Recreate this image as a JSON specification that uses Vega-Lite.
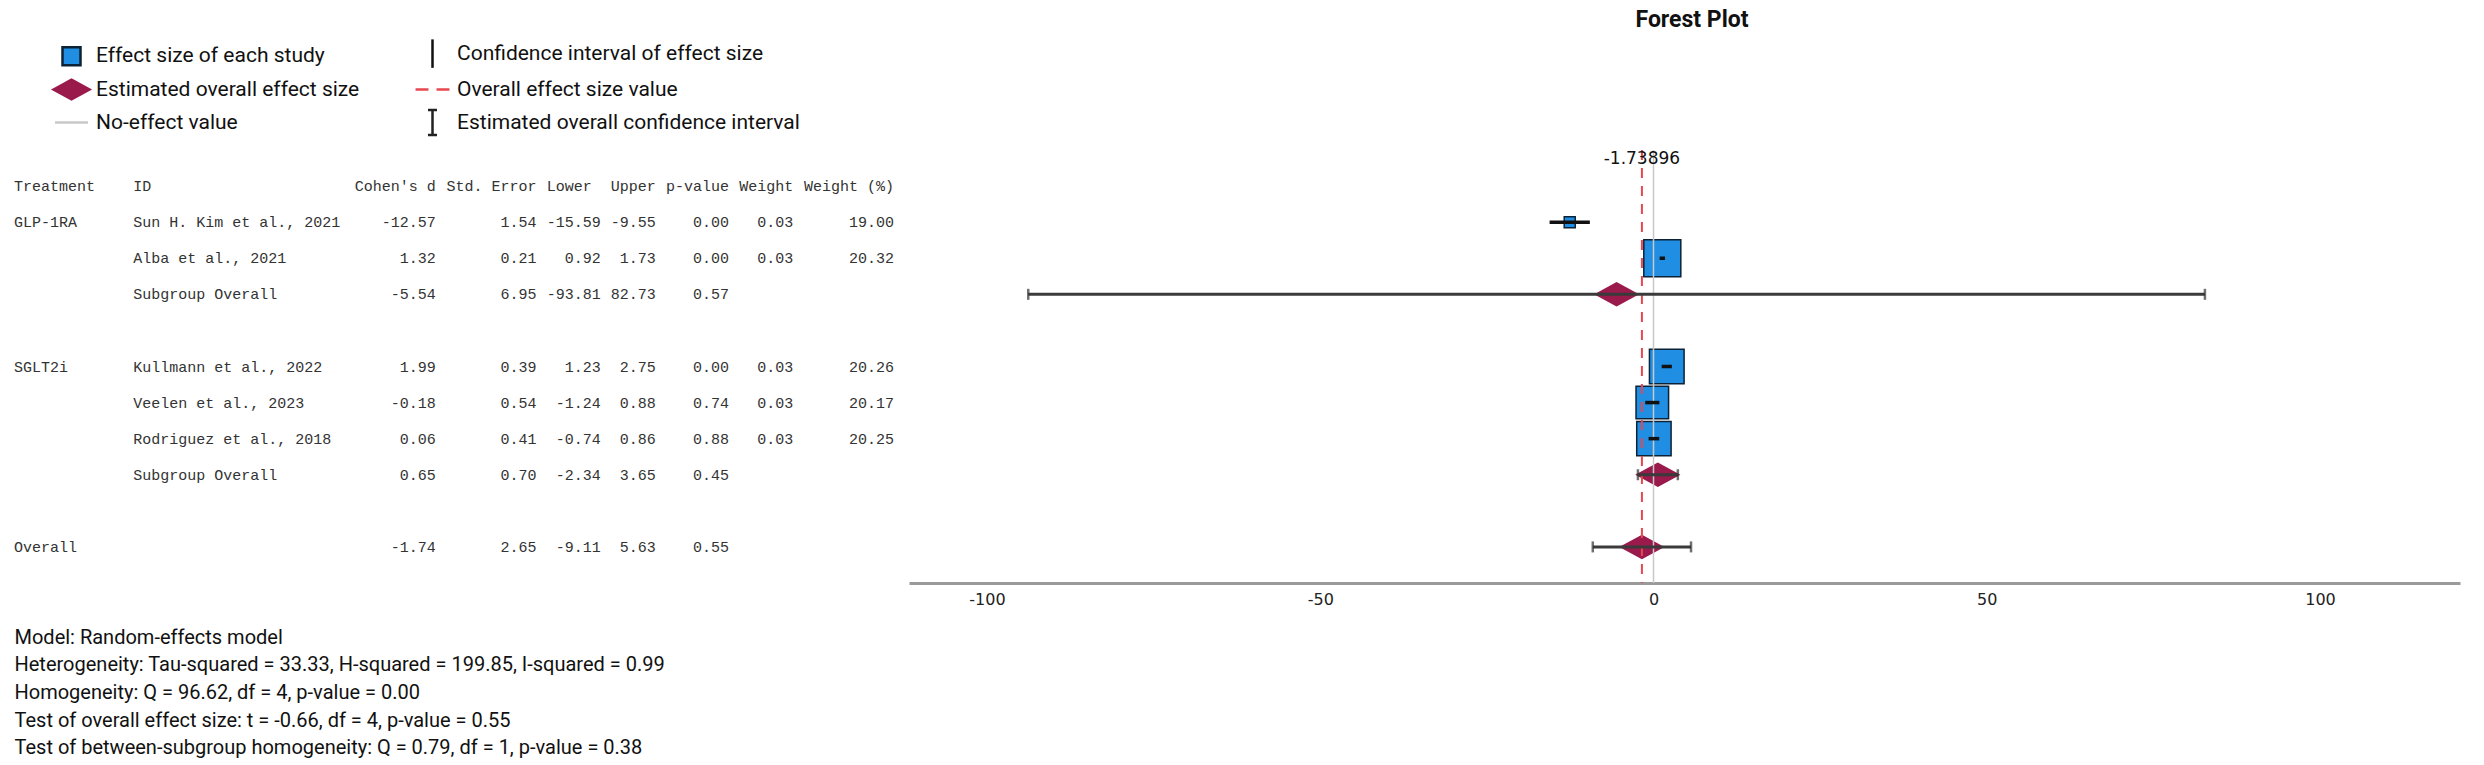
{
  "$schema": "https://vega.github.io/schema/vega-lite/v6.json",
  "width": 2484,
  "height": 433,
  "autosize": {"type": "none"},
  "padding": {"left": 0, "top": 150, "right": 0, "bottom": 182},
  "background": "white",
  "title": {"text": "Forest Plot", "font": "Roboto", "fontSize": 23, "fontWeight": "bold", "color": "#111111", "anchor": "middle", "frame": "group", "dx": 450, "offset": 5},
  "config": {
    "view": {"stroke": null},
    "locale": {"number": {"decimal": ".", "thousands": ",", "grouping": [3], "currency": ["$", ""], "minus": "-"}}
  },
  "datasets": {
    "studies": [
      {"row": "GLP-1RA | Sun H. Kim et al., 2021", "treatment": "GLP-1RA", "id": "Sun H. Kim et al., 2021", "type": "study", "element": "Effect size of each study", "cohens_d": -12.57, "std_error": 1.54, "lower": -15.59, "upper": -9.55, "p_value": 0.00, "weight": 0.03, "weight_pct": 19.00},
      {"row": "GLP-1RA | Alba et al., 2021", "treatment": "GLP-1RA", "id": "Alba et al., 2021", "type": "study", "element": "Effect size of each study", "cohens_d": 1.32, "std_error": 0.21, "lower": 0.92, "upper": 1.73, "p_value": 0.00, "weight": 0.03, "weight_pct": 20.32},
      {"row": "GLP-1RA | Subgroup Overall", "treatment": "GLP-1RA", "id": "Subgroup Overall", "type": "subgroup", "element": "Estimated overall effect size", "cohens_d": -5.54, "std_error": 6.95, "lower": -93.81, "upper": 82.73, "p_value": 0.57, "weight": null, "weight_pct": null},
      {"row": "SGLT2i | Kullmann et al., 2022", "treatment": "SGLT2i", "id": "Kullmann et al., 2022", "type": "study", "element": "Effect size of each study", "cohens_d": 1.99, "std_error": 0.39, "lower": 1.23, "upper": 2.75, "p_value": 0.00, "weight": 0.03, "weight_pct": 20.26},
      {"row": "SGLT2i | Veelen et al., 2023", "treatment": "SGLT2i", "id": "Veelen et al., 2023", "type": "study", "element": "Effect size of each study", "cohens_d": -0.18, "std_error": 0.54, "lower": -1.24, "upper": 0.88, "p_value": 0.74, "weight": 0.03, "weight_pct": 20.17},
      {"row": "SGLT2i | Rodriguez et al., 2018", "treatment": "SGLT2i", "id": "Rodriguez et al., 2018", "type": "study", "element": "Effect size of each study", "cohens_d": 0.06, "std_error": 0.41, "lower": -0.74, "upper": 0.86, "p_value": 0.88, "weight": 0.03, "weight_pct": 20.25},
      {"row": "SGLT2i | Subgroup Overall", "treatment": "SGLT2i", "id": "Subgroup Overall", "type": "subgroup", "element": "Estimated overall effect size", "cohens_d": 0.65, "std_error": 0.70, "lower": -2.34, "upper": 3.65, "p_value": 0.45, "weight": null, "weight_pct": null},
      {"row": "Overall", "treatment": "Overall", "id": null, "type": "overall", "element": "Estimated overall effect size", "cohens_d": -1.74, "estimate": -1.73896, "std_error": 2.65, "lower": -9.11, "upper": 5.63, "p_value": 0.55, "weight": null, "weight_pct": null}
    ],
    "header": [
      {"row": "header", "treatment": "Treatment", "id": "ID", "cohens_d": "Cohen's d", "std_error": "Std. Error", "lower": "Lower", "upper": "Upper", "p_value": "p-value", "weight": "Weight", "weight_pct": "Weight (%)"}
    ]
  },
  "data": {"name": "studies"},
  "resolve": {"scale": {"x": "independent"}, "axis": {"x": "independent"}},
  "layer": [
    {
      "encoding": {
        "y": {"field": "row", "type": "nominal", "axis": null, "scale": {"type": "point", "padding": 1.064, "domain": ["header", "GLP-1RA | Sun H. Kim et al., 2021", "GLP-1RA | Alba et al., 2021", "GLP-1RA | Subgroup Overall", "gap 1", "SGLT2i | Kullmann et al., 2022", "SGLT2i | Veelen et al., 2023", "SGLT2i | Rodriguez et al., 2018", "SGLT2i | Subgroup Overall", "gap 2", "Overall"]}}
      },
      "layer": [
        {
          "encoding": {"x": {"datum": 0, "type": "quantitative", "scale": {"domain": [0, 96], "range": [14, 894], "nice": false, "zero": false},
            "axis": {"orient": "bottom", "domain": false, "ticks": false, "labels": false, "grid": false,
              "title": ["Model: Random-effects model", "Heterogeneity: Tau-squared = 33.33, H-squared = 199.85, I-squared = 0.99", "Homogeneity: Q = 96.62, df = 4, p-value = 0.00", "Test of overall effect size: t = -0.66, df = 4, p-value = 0.55", "Test of between-subgroup homogeneity: Q = 0.79, df = 1, p-value = 0.38"],
              "titleAnchor": "start", "titleAlign": "left", "titleBaseline": "top", "titleFont": "Roboto", "titleFontSize": 20, "titleFontWeight": "normal", "titleColor": "#111111", "titlePadding": 44, "titleLineHeight": 27.7}}},
          "layer": [
            {"transform": [{"window": [{"op": "row_number", "as": "rn"}], "groupby": ["treatment"]}, {"filter": "datum.rn == 1"}],
             "mark": {"type": "text", "font": "Liberation Mono", "fontSize": 15, "color": "#333333", "align": "left", "baseline": "middle"},
             "encoding": {"text": {"field": "treatment"}}},
            {"data": {"name": "header"},
             "mark": {"type": "text", "font": "Liberation Mono", "fontSize": 15, "color": "#333333", "align": "left", "baseline": "middle"},
             "encoding": {"text": {"field": "treatment"}}}
          ]
        },
        {
          "encoding": {"x": {"datum": 13, "type": "quantitative"}},
          "layer": [
            {"transform": [{"filter": "isValid(datum.id)"}],
             "mark": {"type": "text", "font": "Liberation Mono", "fontSize": 15, "color": "#333333", "align": "left", "baseline": "middle"},
             "encoding": {"text": {"field": "id"}}},
            {"data": {"name": "header"},
             "mark": {"type": "text", "font": "Liberation Mono", "fontSize": 15, "color": "#333333", "align": "left", "baseline": "middle"},
             "encoding": {"text": {"field": "id"}}}
          ]
        },
        {
          "encoding": {"x": {"datum": 46, "type": "quantitative"}},
          "layer": [
            {"mark": {"type": "text", "font": "Liberation Mono", "fontSize": 15, "color": "#333333", "align": "right", "baseline": "middle"},
             "encoding": {"text": {"field": "cohens_d", "type": "quantitative", "format": ".2f"}}},
            {"data": {"name": "header"},
             "mark": {"type": "text", "font": "Liberation Mono", "fontSize": 15, "color": "#333333", "align": "right", "baseline": "middle"},
             "encoding": {"text": {"field": "cohens_d"}}}
          ]
        },
        {
          "encoding": {"x": {"datum": 57, "type": "quantitative"}},
          "layer": [
            {"mark": {"type": "text", "font": "Liberation Mono", "fontSize": 15, "color": "#333333", "align": "right", "baseline": "middle"},
             "encoding": {"text": {"field": "std_error", "type": "quantitative", "format": ".2f"}}},
            {"data": {"name": "header"},
             "mark": {"type": "text", "font": "Liberation Mono", "fontSize": 15, "color": "#333333", "align": "right", "baseline": "middle"},
             "encoding": {"text": {"field": "std_error"}}}
          ]
        },
        {
          "encoding": {"x": {"datum": 64, "type": "quantitative"}},
          "layer": [
            {"mark": {"type": "text", "font": "Liberation Mono", "fontSize": 15, "color": "#333333", "align": "right", "baseline": "middle"},
             "encoding": {"text": {"field": "lower", "type": "quantitative", "format": ".2f"}}},
            {"data": {"name": "header"},
             "mark": {"type": "text", "font": "Liberation Mono", "fontSize": 15, "color": "#333333", "align": "right", "baseline": "middle", "dx": -9},
             "encoding": {"text": {"field": "lower"}}}
          ]
        },
        {
          "encoding": {"x": {"datum": 70, "type": "quantitative"}},
          "layer": [
            {"mark": {"type": "text", "font": "Liberation Mono", "fontSize": 15, "color": "#333333", "align": "right", "baseline": "middle"},
             "encoding": {"text": {"field": "upper", "type": "quantitative", "format": ".2f"}}},
            {"data": {"name": "header"},
             "mark": {"type": "text", "font": "Liberation Mono", "fontSize": 15, "color": "#333333", "align": "right", "baseline": "middle"},
             "encoding": {"text": {"field": "upper"}}}
          ]
        },
        {
          "encoding": {"x": {"datum": 78, "type": "quantitative"}},
          "layer": [
            {"mark": {"type": "text", "font": "Liberation Mono", "fontSize": 15, "color": "#333333", "align": "right", "baseline": "middle"},
             "encoding": {"text": {"field": "p_value", "type": "quantitative", "format": ".2f"}}},
            {"data": {"name": "header"},
             "mark": {"type": "text", "font": "Liberation Mono", "fontSize": 15, "color": "#333333", "align": "right", "baseline": "middle"},
             "encoding": {"text": {"field": "p_value"}}}
          ]
        },
        {
          "encoding": {"x": {"datum": 85, "type": "quantitative"}},
          "layer": [
            {"transform": [{"filter": "isValid(datum.weight)"}],
             "mark": {"type": "text", "font": "Liberation Mono", "fontSize": 15, "color": "#333333", "align": "right", "baseline": "middle"},
             "encoding": {"text": {"field": "weight", "type": "quantitative", "format": ".2f"}}},
            {"data": {"name": "header"},
             "mark": {"type": "text", "font": "Liberation Mono", "fontSize": 15, "color": "#333333", "align": "right", "baseline": "middle"},
             "encoding": {"text": {"field": "weight"}}}
          ]
        },
        {
          "encoding": {"x": {"datum": 96, "type": "quantitative"}},
          "layer": [
            {"transform": [{"filter": "isValid(datum.weight_pct)"}],
             "mark": {"type": "text", "font": "Liberation Mono", "fontSize": 15, "color": "#333333", "align": "right", "baseline": "middle"},
             "encoding": {"text": {"field": "weight_pct", "type": "quantitative", "format": ".2f"}}},
            {"data": {"name": "header"},
             "mark": {"type": "text", "font": "Liberation Mono", "fontSize": 15, "color": "#333333", "align": "right", "baseline": "middle"},
             "encoding": {"text": {"field": "weight_pct"}}}
          ]
        }
      ]
    },
    {
      "layer": [
        {
          "mark": {"type": "point", "filled": true, "opacity": 1, "strokeWidth": 1.5},
          "encoding": {
            "x": {"field": "cohens_d", "type": "quantitative",
              "scale": {"domain": [-111.7, 121], "range": [909, 2460], "nice": false, "zero": false},
              "axis": {"orient": "bottom", "values": [-100, -50, 0, 50, 100], "labelExpr": "datum.value + ''", "domainColor": "#9a9a9a", "domainWidth": 3, "ticks": false, "grid": false, "labelFont": "DejaVu Sans", "labelFontSize": 16, "labelColor": "#222222", "labelPadding": 8, "title": null}},
            "y": {"field": "row", "type": "nominal", "axis": null, "scale": {"type": "point", "padding": 1.064, "domain": ["header", "GLP-1RA | Sun H. Kim et al., 2021", "GLP-1RA | Alba et al., 2021", "GLP-1RA | Subgroup Overall", "gap 1", "SGLT2i | Kullmann et al., 2022", "SGLT2i | Veelen et al., 2023", "SGLT2i | Rodriguez et al., 2018", "SGLT2i | Subgroup Overall", "gap 2", "Overall"]}},
            "shape": {"field": "element", "type": "nominal",
              "scale": {"domain": ["Effect size of each study", "Estimated overall effect size", "No-effect value", "Confidence interval of effect size", "Overall effect size value", "Estimated overall confidence interval"],
                "range": ["M-0.6,-0.6L0.6,-0.6L0.6,0.6L-0.6,0.6Z", "M-1.2,0L0,-0.65L1.2,0L0,0.65Z", "M-1.1,0L1.1,0", "M0,-0.95L0,0.95", "M-1.13,0L-0.27,0M0.27,0L1.13,0", "M-0.3,-0.83L0.3,-0.83M0,-0.83L0,0.83M-0.3,0.83L0.3,0.83"]},
              "legend": {"orient": "none", "legendX": 55, "legendY": -113, "columns": 2, "columnPadding": 50, "rowPadding": 0, "symbolSize": 900, "symbolStrokeWidth": 2.5, "labelFont": "Roboto", "labelFontSize": 21, "labelColor": "#111111", "labelLimit": 600, "labelOffset": 8, "title": null, "padding": 0}},
            "fill": {"field": "element", "type": "nominal",
              "scale": {"domain": ["Effect size of each study", "Estimated overall effect size", "No-effect value", "Confidence interval of effect size", "Overall effect size value", "Estimated overall confidence interval"],
                "range": ["#1f8ee3", "#9a1a4c", "transparent", "transparent", "transparent", "transparent"]},
              "legend": {"orient": "none", "legendX": 55, "legendY": -113, "columns": 2, "columnPadding": 50, "rowPadding": 0, "symbolSize": 900, "symbolStrokeWidth": 2.5, "labelFont": "Roboto", "labelFontSize": 21, "labelColor": "#111111", "labelLimit": 600, "labelOffset": 8, "title": null, "padding": 0}},
            "stroke": {"field": "element", "type": "nominal",
              "scale": {"domain": ["Effect size of each study", "Estimated overall effect size", "No-effect value", "Confidence interval of effect size", "Overall effect size value", "Estimated overall confidence interval"],
                "range": ["#0c2236", "#9a1a4c", "#c8c8c8", "#111111", "#e8474f", "#222222"]},
              "legend": {"orient": "none", "legendX": 55, "legendY": -113, "columns": 2, "columnPadding": 50, "rowPadding": 0, "symbolSize": 900, "symbolStrokeWidth": 2.5, "labelFont": "Roboto", "labelFontSize": 21, "labelColor": "#111111", "labelLimit": 600, "labelOffset": 8, "title": null, "padding": 0}},
            "size": {"condition": {"test": "datum.type != 'study'", "value": 1225}, "field": "std_error", "type": "quantitative", "scale": {"domain": [0.21, 1.54], "range": [3803, 336]}, "legend": null}
          }
        },
        {
          "data": {"values": [{"no_effect": 0}]},
          "mark": {"type": "rule", "color": "#c8c8c8", "strokeWidth": 1.5},
          "encoding": {"x": {"field": "no_effect", "type": "quantitative"}}
        },
        {
          "transform": [{"filter": "datum.type == 'overall'"}],
          "mark": {"type": "rule", "color": "#e8474f", "strokeWidth": 2, "strokeDash": [10, 8]},
          "encoding": {"x": {"field": "estimate", "type": "quantitative"}}
        },
        {
          "transform": [{"filter": "datum.type == 'study'"}],
          "mark": {"type": "rule", "color": "#111111", "strokeWidth": 3.5},
          "encoding": {
            "x": {"field": "lower", "type": "quantitative"},
            "x2": {"field": "upper"},
            "y": {"field": "row", "type": "nominal", "axis": null}
          }
        },
        {
          "transform": [{"filter": "datum.type != 'study'"}],
          "mark": {"type": "rule", "color": "#3a3a3a", "strokeWidth": 3},
          "encoding": {
            "x": {"field": "lower", "type": "quantitative"},
            "x2": {"field": "upper"},
            "y": {"field": "row", "type": "nominal", "axis": null}
          }
        },
        {
          "transform": [{"filter": "datum.type != 'study'"}],
          "mark": {"type": "tick", "color": "#333333", "thickness": 2.5, "size": 11, "orient": "vertical"},
          "encoding": {
            "x": {"field": "lower", "type": "quantitative"},
            "y": {"field": "row", "type": "nominal", "axis": null}
          }
        },
        {
          "transform": [{"filter": "datum.type != 'study'"}],
          "mark": {"type": "tick", "color": "#333333", "thickness": 2.5, "size": 11, "orient": "vertical"},
          "encoding": {
            "x": {"field": "upper", "type": "quantitative"},
            "y": {"field": "row", "type": "nominal", "axis": null}
          }
        },
        {
          "transform": [{"filter": "datum.type == 'overall'"}],
          "mark": {"type": "text", "font": "DejaVu Sans", "fontSize": 17, "color": "#111111", "align": "center", "baseline": "middle", "dy": -27},
          "encoding": {
            "x": {"field": "estimate", "type": "quantitative"},
            "y": {"datum": "header", "type": "nominal", "axis": null},
            "text": {"field": "estimate", "type": "nominal"}
          }
        }
      ]
    }
  ]
}
